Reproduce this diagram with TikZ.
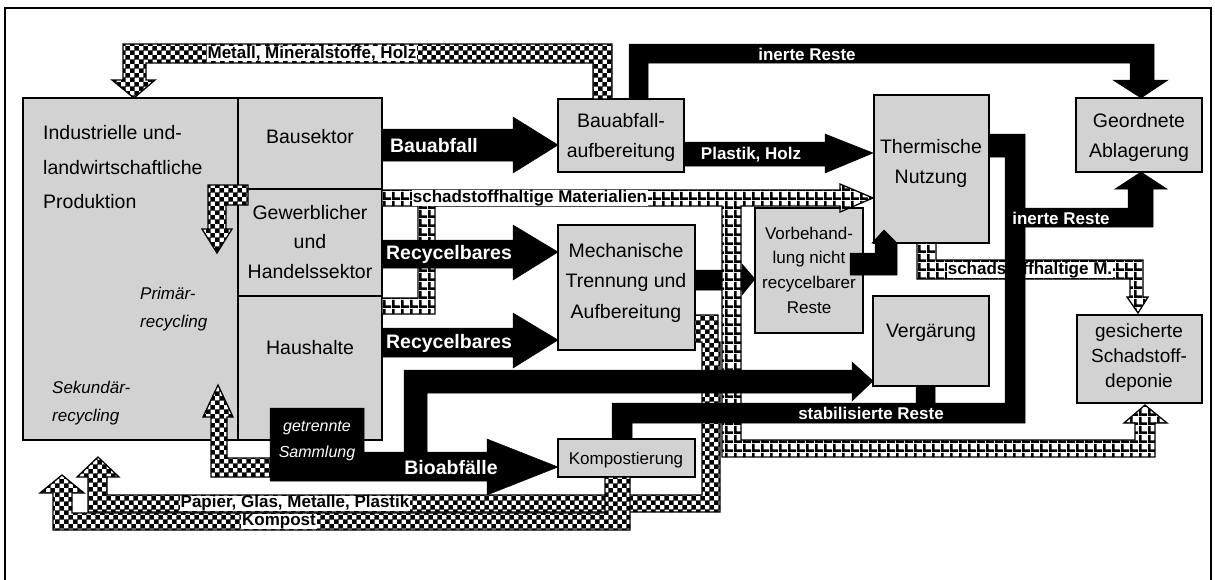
\documentclass[tikz,border=0pt]{standalone}
\usepackage{fontspec}
\setmainfont{Liberation Sans}
\usetikzlibrary{patterns}
\definecolor{boxgray}{RGB}{210,210,210}
\pgfdeclarepatternformonly{coarsecheck}{\pgfpointorigin}{\pgfqpoint{9.4pt}{9.4pt}}{\pgfqpoint{9.4pt}{9.4pt}}{%
  \pgfpathrectangle{\pgfpointorigin}{\pgfqpoint{4.9pt}{4.9pt}}%
  \pgfpathrectangle{\pgfqpoint{4.7pt}{4.7pt}}{\pgfqpoint{4.9pt}{4.9pt}}%
  \pgfusepath{fill}}
\pgfdeclarepatternformonly{gridsq}{\pgfpointorigin}{\pgfqpoint{8.5pt}{8.5pt}}{\pgfqpoint{8.5pt}{8.5pt}}{%
  \pgfpathrectangle{\pgfpointorigin}{\pgfqpoint{8.5pt}{2.7pt}}%
  \pgfpathrectangle{\pgfpointorigin}{\pgfqpoint{2.7pt}{8.5pt}}%
  \pgfusepath{fill}}
\begin{document}
\begin{tikzpicture}[x=1pt,y=-1pt,
  box/.style={draw=black, line width=1.3pt, fill=boxgray, inner sep=0pt, outer sep=0pt, anchor=north west},
  checkband/.style={draw=black, line width=1.3pt, preaction={fill=white}, pattern=coarsecheck},
  gridband/.style={draw=black, line width=1.3pt, preaction={fill=white}, pattern=gridsq},
  blackband/.style={fill=black, draw=black, line width=0.5pt},
  boxtext/.style={font=\fontsize{19.5}{29.5}\selectfont, align=center, inner sep=0pt},
  smalltext/.style={font=\fontsize{17}{24.7}\selectfont, align=center, inner sep=0pt},
  itext/.style={font=\itshape\fontsize{17}{28}\selectfont, align=left, inner sep=0pt, anchor=west},
  wlabel/.style={text=white, font=\bfseries\fontsize{17}{20}\selectfont, inner sep=0pt},
  biglabel/.style={text=white, font=\bfseries\fontsize{19.5}{22}\selectfont, inner sep=0pt},
  plabel/.style={fill=white, font=\bfseries\fontsize{17}{18}\selectfont, inner xsep=1pt, inner ysep=0pt, minimum height=15.5pt}
]
\useasboundingbox (0,0) rectangle (1215,579);
\fill[white] (0,0) rectangle (1215,579);
\draw[line width=1.5pt] (5,590) -- (5,8) -- (1211,8) -- (1211,590);

% boxes
\node[box, minimum width=215pt, minimum height=342pt] (prod) at (23,98) {};
\node[box, minimum width=144pt, minimum height=91pt] (bausek) at (238,98) {};
\node[box, minimum width=144pt, minimum height=107pt] (gewerb) at (238,189) {};
\node[box, minimum width=144pt, minimum height=144pt] (haus) at (238,296) {};
\node[box, minimum width=126pt, minimum height=73pt] (baua) at (558,99) {};
\node[box, minimum width=137pt, minimum height=125pt] (mech) at (558,225) {};
\node[box, minimum width=137pt, minimum height=38pt] (kompo) at (558,439) {};
\node[box, minimum width=108pt, minimum height=125pt] (vorb) at (755,208) {};
\node[box, minimum width=115pt, minimum height=148pt] (therm) at (874,95) {};
\node[box, minimum width=116pt, minimum height=90pt] (verg) at (873,296) {};
\node[box, minimum width=126pt, minimum height=74pt] (geord) at (1076,98) {};
\node[box, minimum width=125pt, minimum height=88pt] (gesich) at (1077,315) {};

% box texts
\node[boxtext, anchor=west, align=left, font=\fontsize{19.5}{34.5}\selectfont] (tprod) at (43,167.5) {Industrielle und-\\landwirtschaftliche\\Produktion};
\node[boxtext] (tbau) at (310,137) {Bausektor};
\node[boxtext] (tgew) at (310,242) {Gewerblicher\\und\\Handelssektor};
\node[boxtext] (thaus) at (310,348) {Haushalte};
\node[itext] (tprim) at (140,309) {Primär-\\recycling};
\node[itext] (tsek) at (52,403) {Sekundär-\\recycling};
\node[boxtext] (tbaua) at (621,137.5) {Bauabfall-\\aufbereitung};
\node[boxtext, font=\fontsize{19.5}{30.5}\selectfont] (tmech) at (626,282.5) {Mechanische\\Trennung und\\Aufbereitung};
\node[smalltext] (tkompo) at (626,460) {Kompostierung};
\node[smalltext] (tvorb) at (809,270) {Vorbehand-\\lung nicht\\recycelbarer\\Reste};
\node[boxtext, font=\fontsize{19.5}{30}\selectfont] (ttherm) at (931,163) {Thermische\\Nutzung};
\node[boxtext] (tverg) at (931,333) {Vergärung};
\node[boxtext, font=\fontsize{19.5}{30}\selectfont] (tgeord) at (1139,137) {Geordnete\\Ablagerung};
\node[boxtext, font=\fontsize{19}{25}\selectfont] (tges) at (1139,358) {gesicherte\\Schadstoff-\\deponie};

% checkered flows
\draw[checkband] (593,99) -- (593,63) -- (146,63) -- (146,80) -- (155,80) -- (134,98) -- (112,80) -- (123,80) -- (123,44) -- (612,44) -- (612,99) -- cycle;
\draw[checkband] (248,185) -- (248,205) -- (226,205) -- (226,229) -- (232,229) -- (217,253) -- (202,229) -- (208,229) -- (208,185) -- cycle;
\draw[checkband] (270,458) -- (227,458) -- (227,417) -- (233,417) -- (218,385) -- (203,417) -- (211,417) -- (211,477) -- (270,477) -- cycle;

% mech -> vorb
\draw[blackband] (695,270) -- (742,270) -- (742,264) -- (755,279) -- (742,295) -- (742,290) -- (695,290) -- cycle;

% grid flows
\draw[gridband] (382,190) -- (840,190) -- (840,184) -- (873,198) -- (840,212) -- (840,206) -- (741,206) -- (741,440) -- (1135,440) -- (1135,423) -- (1124,423) -- (1145,405) -- (1167,423) -- (1155,423) -- (1155,457) -- (722,457) -- (722,206) -- (435,206) -- (435,314) -- (382,314) -- (382,298) -- (418,298) -- (418,206) -- (382,206) -- cycle;
\draw[gridband] (917,243) -- (936,243) -- (936,260) -- (1143,260) -- (1143,297) -- (1148,297) -- (1138,313) -- (1127,297) -- (1130,297) -- (1130,279) -- (917,279) -- cycle;
\node[plabel] (lschad) at (530,198) {schadstoffhaltige Materialien};
\node[plabel] (lschadm) at (1030,270) {schadstoffhaltige M.};

% Papier / Kompost
\draw[checkband] (695,315) -- (718,315) -- (718,342) -- (720,342) -- (720,512) -- (88,512) -- (88,477) -- (77,477) -- (98,457) -- (119,477) -- (107,477) -- (107,495) -- (702,495) -- (702,342) -- (695,342) -- cycle;
\draw[checkband] (605,477) -- (630,477) -- (630,530) -- (53,530) -- (53,493) -- (40,493) -- (62,475) -- (84,493) -- (72,493) -- (72,513) -- (605,513) -- cycle;
\node[plabel] (lmet) at (312,53.5) {Metall, Mineralstoffe, Holz};
\node[plabel] (lpap) at (295,503.5) {Papier, Glas, Metalle, Plastik};
\node[plabel] (lkomp) at (279,521.5) {Kompost};

% black flows
\draw[blackband] (382,129) -- (513,129) -- (513,117) -- (558,145) -- (513,173) -- (513,161) -- (382,161) -- cycle;
\draw[blackband] (629,99) -- (629,44) -- (1154,44) -- (1154,80) -- (1168,80) -- (1141,98) -- (1113,80) -- (1130,80) -- (1130,63) -- (648,63) -- (648,99) -- cycle;
\draw[blackband] (684,142) -- (825,142) -- (825,134) -- (873,153) -- (825,173) -- (825,166) -- (684,166) -- cycle;
\draw[blackband] (382,240) -- (513,240) -- (513,225) -- (558,252) -- (513,280) -- (513,268) -- (382,268) -- cycle;
\draw[blackband] (382,328) -- (513,328) -- (513,313) -- (558,340) -- (513,368) -- (513,357) -- (382,357) -- cycle;
\draw[blackband] (270,408) -- (364,408) -- (364,452) -- (404,452) -- (404,370) -- (852,370) -- (852,362) -- (873,381) -- (852,401) -- (852,393) -- (427,393) -- (427,452) -- (487,452) -- (487,439) -- (558,467) -- (487,495) -- (487,481) -- (270,481) -- cycle;
\draw[blackband] (989,134) -- (1025,134) -- (1025,208) -- (1128,208) -- (1128,189) -- (1115,189) -- (1141,172) -- (1167,189) -- (1153,189) -- (1153,227) -- (1025,227) -- (1025,423) -- (632,423) -- (632,439) -- (612,439) -- (612,403) -- (916,403) -- (916,386) -- (935,386) -- (935,403) -- (1005,403) -- (1005,157) -- (989,157) -- cycle;
\draw[blackband] (850,253) -- (875,253) -- (875,243) -- (872,243) -- (884,230) -- (897,243) -- (897,275) -- (850,275) -- cycle;

% labels on black
\node[biglabel] (lbauab) at (434,146) {Bauabfall};
\node[biglabel] (lrec1) at (449,254) {Recycelbares};
\node[biglabel] (lrec2) at (449,343) {Recycelbares};
\node[biglabel] (lbio) at (451,468) {Bioabfälle};
\node[wlabel] (liner1) at (807,54) {inerte Reste};
\node[wlabel] (lplast) at (751,155) {Plastik, Holz};
\node[wlabel] (lstab) at (871,413) {stabilisierte Reste};
\node[wlabel] (liner2) at (1061,218) {inerte Reste};
\node[text=white, font=\itshape\fontsize{16}{26}\selectfont, align=center, inner sep=0pt] (lgetr) at (317,441) {getrennte\\Sammlung};
\end{tikzpicture}
\end{document}
